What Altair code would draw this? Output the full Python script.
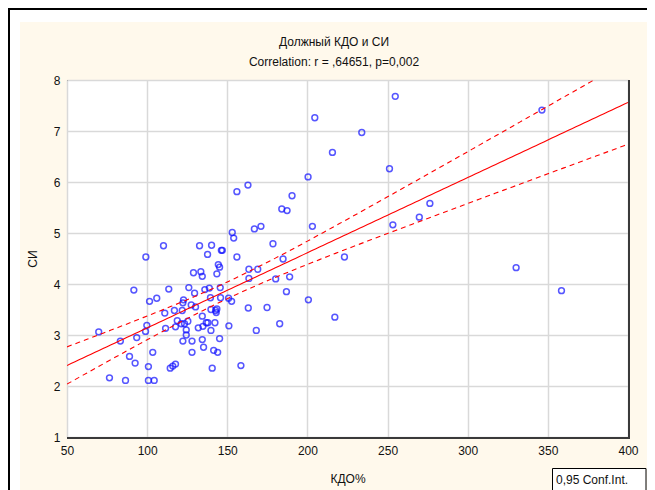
import altair as alt
import numpy as np
import pandas as pd

# ---- data ----
kdo = [
    69.8, 76.5, 83.3, 86.5, 89.0, 91.7, 92.5, 93.5, 99.2, 99.8,
    99.0, 100.8, 101.5, 100.8, 104.4, 103.5, 106.0, 110.2, 111.0, 111.5,
    113.5, 114.4, 116.0, 117.7, 117.0, 117.7, 118.8, 121.3, 122.3, 121.9,
    122.7, 122.3, 123.3, 124.4, 124.4, 125.4, 126.0, 127.5, 128.0, 128.0,
    128.9, 129.6, 130.2, 131.9, 132.7, 133.5, 134.4, 134.4, 134.4, 135.2,
    134.8, 136.0, 136.9, 137.7, 137.9, 138.8, 139.5, 139.8, 140.2, 139.8,
    140.6, 141.5, 142.3, 142.7, 143.1, 143.5, 143.5, 144.0, 144.4, 145.2,
    145.2, 145.6, 145.8, 146.3, 146.9, 150.8, 151.0, 153.1, 154.0, 152.7,
    156.0, 158.5, 163.1, 163.5, 163.5, 166.9, 168.1, 169.0, 171.0, 174.8,
    178.5, 180.2, 182.7, 184.8, 186.9, 188.9, 200.6, 203.1, 217.1,
    204.6, 215.6, 200.4, 156.0, 162.9, 190.4, 184.0, 187.3, 254.8, 233.9,
    251.2, 346.3, 276.4, 269.8, 253.3, 223.1, 330.2, 358.5,
]
si = [
    3.06, 2.16, 2.88, 2.11, 2.58, 3.88, 2.45, 2.95, 4.53, 3.19,
    3.07, 2.38, 3.66, 2.11, 2.11, 2.66, 3.72, 4.75, 3.43, 3.13,
    3.90, 2.35, 2.39, 2.43, 3.48, 3.16, 3.28, 3.22, 2.88, 3.48,
    3.69, 3.63, 3.22, 3.00, 3.10, 3.27, 3.93, 3.59, 2.88, 2.66,
    4.22, 3.82, 3.55, 3.14, 4.75, 4.24, 4.15, 3.37, 2.91, 2.76,
    3.17, 3.89, 3.24, 4.58, 3.24, 3.92, 3.73, 3.09, 4.76, 3.50,
    2.35, 2.70, 3.24, 3.48, 3.44, 3.51, 4.20, 2.66, 4.38, 4.33,
    2.93, 3.93, 3.73, 4.66, 4.66, 3.72, 3.18, 5.01, 4.90, 3.66,
    4.53, 2.40, 3.53, 4.29, 4.11, 5.08, 3.09, 4.29, 5.13, 3.54,
    4.79, 4.10, 3.22, 4.49, 3.85, 4.14, 3.69, 5.13, 3.35,
    7.26, 6.58, 6.10, 5.81, 5.94, 5.73, 5.47, 5.44, 7.68, 6.97,
    6.26, 7.41, 5.58, 5.31, 5.16, 4.53, 4.32, 3.87,
]
x_ticks = [50, 100, 150, 200, 250, 300, 350, 400]
y_ticks = [1, 2, 3, 4, 5, 6, 7, 8]
title_text = "Должный КДО и СИ"
subtitle_text = "Correlation: r = ,64651, p=0,002"
x_title = "КДО%"
y_title = "СИ"
legend_text = "0,95 Conf.Int."

# ---- linear fit with 95% confidence band of the mean ----
x = np.array(kdo)
y = np.array(si)
n = len(x)
b, a = np.polyfit(x, y, 1)
xm = x.mean()
sxx = ((x - xm) ** 2).sum()
s = np.sqrt(((y - (a + b * x)) ** 2).sum() / (n - 2))
t_crit = 1.981
xs = np.linspace(50, 400, 141)
fit = a + b * xs
hw = t_crit * s * np.sqrt(1.0 / n + (xs - xm) ** 2 / sxx)
lines_df = pd.DataFrame({"x": xs, "fit": fit, "lo": fit - hw, "hi": fit + hw})
pts_df = pd.DataFrame({"kdo": kdo, "si": si})

FONT = "Liberation Sans"
TXT = "#111111"
W, H = 561, 357

xscale = alt.Scale(domain=[50, 400], nice=False, zero=False)
yscale = alt.Scale(domain=[1, 8], nice=False, zero=False)

xaxis = alt.Axis(values=x_ticks, title=x_title, grid=True, ticks=False, domain=False,
                 labelFlush=False, labelOverlap=False, labelPadding=8, titlePadding=17)
yaxis = alt.Axis(values=y_ticks, title=y_title, grid=True, ticks=False, domain=False,
                 labelFlush=False, labelOverlap=False, labelPadding=7, titlePadding=14)

one = alt.Data(values=[{}])


def deco_rect(x0, x1, y0, y1, fill, stroke=None, sw=0):
    kw = dict(fill=fill)
    if stroke:
        kw.update(stroke=stroke, strokeWidth=sw)
    return alt.Chart(one).mark_rect(**kw).encode(
        x=alt.value(x0), x2=alt.value(x1), y=alt.value(y0), y2=alt.value(y1))


def deco_text(txt, x0, y0, align="center"):
    return alt.Chart(one).mark_text(
        text=txt, align=align, baseline="middle", font=FONT, fontSize=12, color=TXT
    ).encode(x=alt.value(x0), y=alt.value(y0))


# white margin strips and the black outer frame (plot-relative pixels)
strip_left = deco_rect(-59, -47, -72, 420, "white")
strip_top = deco_rect(-59, 600, -72, -58, "white")
frame_left = deco_rect(-59, -57, -72, 420, "black")
frame_top = deco_rect(-59, 600, -72, -70, "black")
# darker right/bottom edge of the plot frame
edge_right = deco_rect(561, 563, 0, 359, "#3a3a3a")
edge_bottom = deco_rect(0, 563, 357, 359, "#3a3a3a")

title_mark = deco_text(title_text, 267, -38)
subtitle_mark = deco_text(subtitle_text, 267, -18)

points = alt.Chart(pts_df).mark_point(
    shape="circle", filled=False, color="#1010ff", size=34, strokeWidth=1.5
).encode(
    x=alt.X("kdo:Q", scale=xscale, axis=xaxis),
    y=alt.Y("si:Q", scale=yscale, axis=yaxis),
)

base = alt.Chart(lines_df)
fit_line = base.mark_line(color="#ff0000", strokeWidth=1.1, clip=True).encode(
    x=alt.X("x:Q", scale=xscale), y=alt.Y("fit:Q", scale=yscale))
lo_line = base.mark_line(color="#ff0000", strokeWidth=1.1, strokeDash=[5, 4], clip=True).encode(
    x=alt.X("x:Q", scale=xscale), y=alt.Y("lo:Q", scale=yscale))
hi_line = base.mark_line(color="#ff0000", strokeWidth=1.1, strokeDash=[5, 4], clip=True).encode(
    x=alt.X("x:Q", scale=xscale), y=alt.Y("hi:Q", scale=yscale))

legend_box = deco_rect(485.5, 579, 388.5, 420, "white", "black", 1)
legend_lbl = deco_text(legend_text, 489, 400, align="left")

chart = alt.layer(
    strip_left, strip_top, frame_left, frame_top, title_mark, subtitle_mark,
    points, fit_line, lo_line, hi_line, edge_right, edge_bottom,
    legend_box, legend_lbl
).properties(
    width=W, height=H,
    padding={"left": 59, "top": 72, "right": 19, "bottom": 53},
    autosize=alt.AutoSizeParams(type="none"),
    background="#fff9ec",
).configure_view(
    fill="white", stroke="black", strokeWidth=1
).configure_axis(
    gridColor="#d9d9d9", gridWidth=1.5,
    labelFont=FONT, labelFontSize=12, labelColor=TXT,
    titleFont=FONT, titleFontSize=12, titleColor=TXT, titleFontWeight="normal",
)

chart.save("out.html", embed_options={"renderer": "svg", "actions": False})
